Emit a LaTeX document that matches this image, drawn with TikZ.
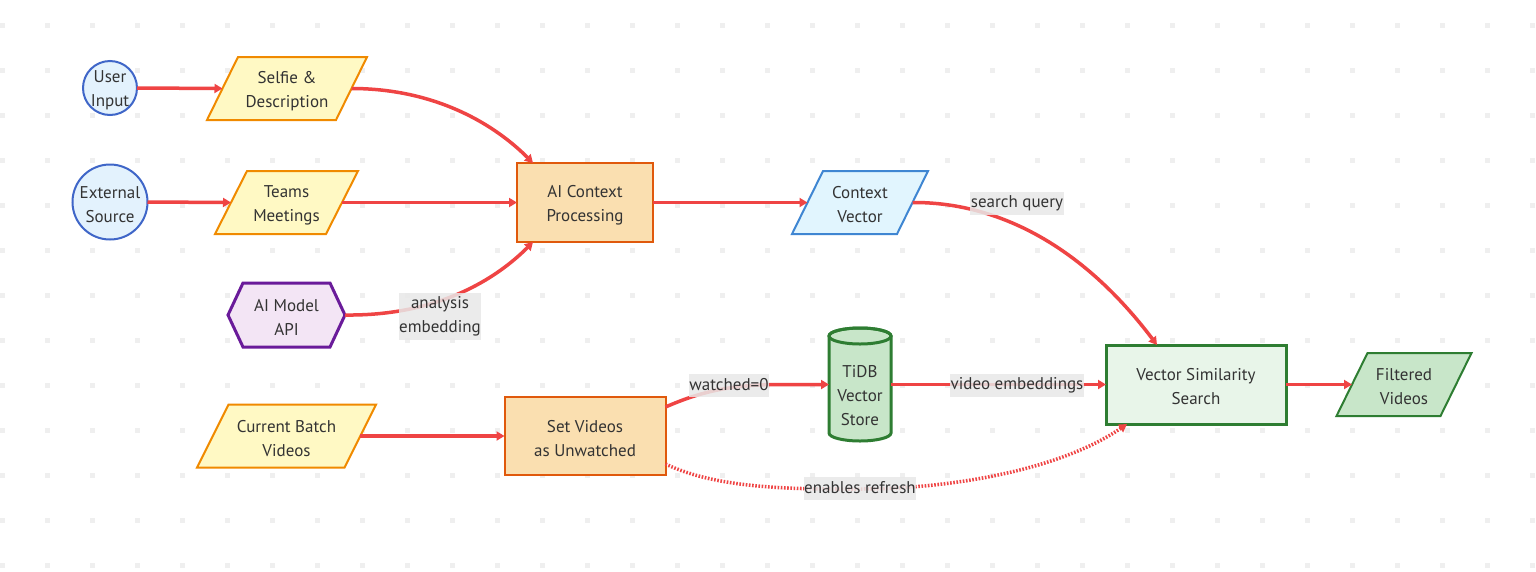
\documentclass[tikz,border=0pt]{standalone}
\usepackage{fontspec}
\setmainfont{PT Sans}
\usetikzlibrary{arrows.meta}
\definecolor{edgec}{HTML}{EF4444}
\definecolor{txtc}{HTML}{333333}
\definecolor{dotc}{HTML}{EFEFEF}
\definecolor{lblbg}{HTML}{E8E8E8}
\definecolor{bluefill}{HTML}{E3F2FD}
\definecolor{bluedraw}{HTML}{3F66C8}
\definecolor{cvfill}{HTML}{E1F5FE}
\definecolor{cvdraw}{HTML}{3F86D2}
\definecolor{yfill}{HTML}{FFF9C4}
\definecolor{ydraw}{HTML}{F08A00}
\definecolor{ofill}{HTML}{FADFB0}
\definecolor{odraw}{HTML}{E0590C}
\definecolor{pfill}{HTML}{F3E5F5}
\definecolor{pdraw}{HTML}{6A1B9A}
\definecolor{gfill}{HTML}{E8F5E9}
\definecolor{gfill2}{HTML}{C8E6C9}
\definecolor{gdraw}{HTML}{2E7D32}
\newcommand\paranode[8]{%
  \filldraw[fill=#6, draw=#7, line width=2pt, line join=miter]
    ({#2-#4},{#3+31.5}) -- ({#2-#4+#5},{#3-31.5}) -- ({#2+#4},{#3-31.5}) -- ({#2+#4-#5},{#3+31.5}) -- cycle;
  \node[shp, minimum width={2*#4-#5}, minimum height=63pt] (#1) at (#2,#3) {};
  \node[ntext] (#1-t) at ([yshift=-2.5pt]#1.center) {#8};
}
\begin{document}
\begin{tikzpicture}[x=1pt,y=-1pt, font=\fontsize{17}{24}\selectfont, text=txtc,
  shp/.style={inner sep=0pt, outer sep=0pt},
  ntext/.style={align=center, inner sep=0pt},
  circ/.style={shp, circle, draw=bluedraw, fill=bluefill, line width=2pt},
  obox/.style={shp, rectangle, draw=odraw, fill=ofill, line width=2pt},
  gbox/.style={shp, rectangle, draw=gdraw, fill=gfill, line width=3pt},
  lbl/.style={fill=lblbg, fill opacity=0.85, text opacity=1, inner xsep=0.5pt, inner ysep=0pt, align=center, minimum height=23pt},
  flow/.style={draw=edgec, line width=3.5pt, -{Triangle[length=8pt,width=9pt]}},
  dotflow/.style={flow, dash pattern=on 1.6pt off 1.6pt}
]
\useasboundingbox (0,0) rectangle (1536,571);
\fill[white] (0,0) rectangle (1536,571);
\foreach \i in {0,...,34} \foreach \j in {0,...,12} \fill[dotc] ({45*\i},{22.5+45*\j}) rectangle ++(5,5);

% nodes
\node[circ, minimum size=54pt] (user) at (110,88) {};
\node[ntext] (user-t) at ([yshift=-2.5pt]user.center) {User\\Input};
\node[circ, minimum size=75pt] (ext) at (110,202) {};
\node[ntext] (ext-t) at ([yshift=-2.5pt]ext.center) {External\\Source};
\paranode{selfie}{287}{88.5}{80}{31}{yfill}{ydraw}{Selfie \&\\Description}
\paranode{teams}{286.5}{202.5}{71.5}{32}{yfill}{ydraw}{Teams\\Meetings}
\paranode{cv}{860}{202.5}{68}{31}{cvfill}{cvdraw}{Context\\Vector}
\paranode{cur}{286.5}{436}{89.5}{31.5}{yfill}{ydraw}{Current Batch\\Videos}
\paranode{filt}{1404}{384.5}{67.5}{31}{gfill2}{gdraw}{Filtered\\Videos}
\node[obox, minimum width=136pt, minimum height=79pt] (ai) at (585,202.5) {};
\node[ntext] (ai-t) at ([yshift=-2.5pt]ai.center) {AI Context\\Processing};
\node[obox, minimum width=161pt, minimum height=78pt] (setv) at (585,436) {};
\node[ntext] (setv-t) at ([yshift=-2.5pt]setv.center) {Set Videos\\as Unwatched};
\node[gbox, minimum width=180pt, minimum height=79pt] (vss) at (1196,384.5) {};
\node[ntext] (vss-t) at ([yshift=-2.5pt]vss.center) {Vector Similarity\\Search};
% hexagon
\filldraw[fill=pfill, draw=pdraw, line width=3pt, line join=miter]
  (228,315) -- (243,283) -- (330,283) -- (345,315) -- (330,347) -- (243,347) -- cycle;
\node[shp, minimum width=117pt, minimum height=64pt] (hex) at (286.5,315) {};
\node[ntext] (hex-t) at ([yshift=-2.5pt]hex.center) {AI Model\\API};
% cylinder
\filldraw[fill=gfill2, draw=gdraw, line width=3pt]
  (829,336) -- (829,433) arc[start angle=180, end angle=0, x radius=31, y radius=8]
  -- (891,336) arc[start angle=0, end angle=-180, x radius=31, y radius=8] -- cycle;
\draw[gdraw, line width=3pt] (860,336) ellipse[x radius=31, y radius=8];
\node[shp, minimum width=62pt, minimum height=112pt] (tidb) at (860,384.5) {};
\node[ntext] (tidb-t) at (860,396) {TiDB\\Vector\\Store};

% edges
\draw[flow] (user.east) -- (selfie.west);
\draw[flow] (ext.east) -- (teams.west);
\draw[flow] (teams.east) -- (ai.west);
\draw[flow] (selfie.east) .. controls (430,88.5) and (490,120) .. ([xshift=-52pt]ai.north);
\draw[flow] (hex.east) .. controls (430,316) and (490,285) .. ([xshift=-52pt]ai.south);
\draw[flow] (ai.east) -- (cv.west);
\draw[flow] (cv.east) .. controls (980,202) and (1070,230) .. ([xshift=-39pt]vss.north);
\draw[flow] (cur.east) -- (setv.west);
\draw[flow] ([yshift=29pt]setv.east) .. controls (700,392) and (730,384.5) .. (780,384.5) -- (tidb.west);
\draw[flow] (tidb.east) -- (vss.west);
\draw[flow] (vss.east) -- (filt.west);
\draw[dotflow] ([yshift=-28pt]setv.east) .. controls (720,490) and (800,489) .. (860,489)
  .. controls (950,489) and (1060,470) .. ([xshift=-69pt]vss.south);

% labels
\node[lbl, minimum height=47pt] (l1) at (440,316.5) {analysis\\embedding};
\node[lbl] (l2) at (1017,203.5) {search query};
\node[lbl] (l3) at (729,385) {watched=0};
\node[lbl] (l4) at (1017,385.5) {video embeddings};
\node[lbl] (l5) at (860,488) {enables refresh};
\end{tikzpicture}
\end{document}
